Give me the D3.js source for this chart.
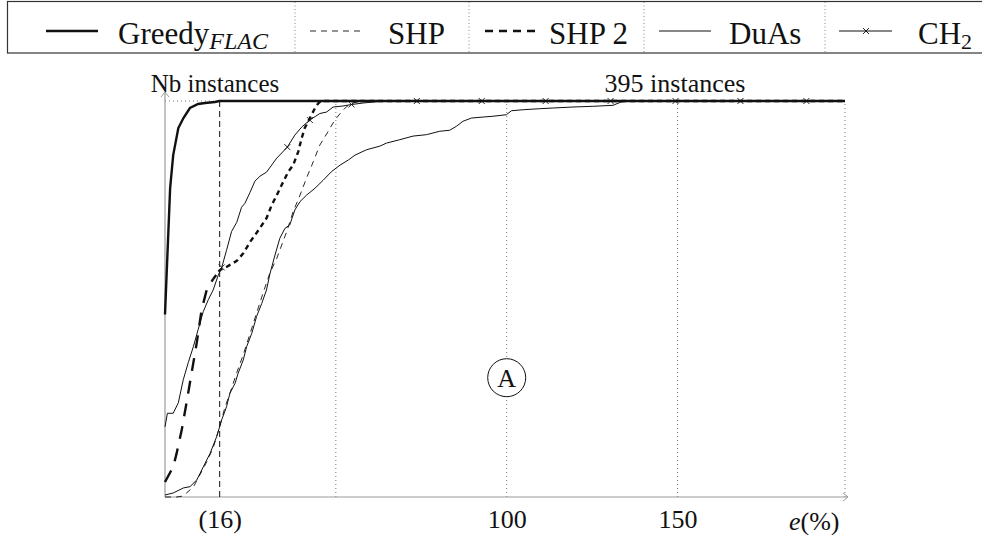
<!DOCTYPE html>
<html><head><meta charset="utf-8">
<script src="https://cdn.jsdelivr.net/npm/d3@7"></script>
<style>
body{margin:0;background:#fff}
svg text{font-family:"Liberation Serif","DejaVu Serif","Noto Serif",serif !important;fill:#111}
</style>
</head><body>
<svg id="c" width="982" height="535" font-family="Liberation Serif, DejaVu Serif, serif"></svg>
<script>
// ---------- DATA (e in %, number of instances) ----------
const totalInstances = 395;
const xMax = 199;
const gridValues = [50, 100, 150, 199];
const markValue = 16;
const tickValues = [16, 100, 150];
const tickLabels = ["(16)", "100", "150"];
const xAxisLabelPos = 190;

const greedy = [[0,182],[1.5,308],[2.4,341],[3.9,368],[5.4,378],[7.3,388],[9.7,392],[11.7,393],[14.6,394],[15.9,395],[199,395]];

const shp = [[0,0],[3.4,0],[5.35,1],[6.3,4],[8.3,10],[10.2,22],[12.2,35],[14.1,49],[15.9,69],[17.5,89],[19.0,103.5],[21.0,124],[22.9,142],[24.9,163],[26.8,183.5],[28.7,203.5],[30.7,223.5],[32.7,238],[35.6,264.6],[37.5,284.6],[39.5,301],[41.4,318],[43.4,334.5],[45.3,351],[47.7,364.4],[49.7,376],[51.7,384.3],[53.1,389.3],[54.6,392.7],[57.0,394.5],[58.5,395],[199,395]];

const shp2 = [[0,15],[2.4,30],[3.4,43.5],[4.9,67],[6.3,94],[7.8,124],[9.3,154],[10.7,186.5],[12.2,206.5],[14.1,217.5],[16.1,226.5],[18.0,229.5],[21.0,235.5],[22.9,243],[24.9,254.5],[26.3,261],[28.3,271],[29.7,278],[31.2,291],[32.7,301],[34.1,311],[36.1,324.5],[37.5,331],[39.0,344.5],[40.0,358],[40.9,368],[42.4,378],[43.9,388],[44.8,392.5],[45.6,395],[199,395]];

const duas = [[0,2],[2.4,4],[5.35,9],[7.3,10.3],[9.3,17],[11.2,30],[13.2,43.6],[15.1,60],[16.6,77],[18.0,90],[19.0,103.5],[20.5,113.4],[21.4,123.4],[22.9,136.7],[23.9,150],[25.4,163.3],[26.8,180],[28.3,193],[29.7,206.5],[30.7,222.5],[32.2,241.4],[33.6,258],[35.1,268],[36.5,271.3],[38.0,286.3],[39.5,294.6],[41.4,301],[43.9,308],[46.3,316],[48.7,324.5],[51.2,331],[53.6,336],[55.6,341],[59.0,346.4],[62.9,350],[64.8,353],[68.7,356.4],[72.6,360],[76.5,361.4],[80.4,364.8],[83.3,365.8],[85.3,369.8],[87.2,374.8],[89.7,378],[93.1,379],[96.0,379.8],[99.9,381.3],[101.4,385.3],[104.8,386.3],[109.6,387.3],[113.5,388],[119.4,389],[125.2,389.7],[131.1,390.7],[133.5,394],[135.0,394.7],[136.5,395],[199,395]];

const ch2 = [[0,70],[0.7,83.5],[2.4,83.5],[3.9,94],[5.35,117],[6.8,134],[8.3,150],[9.7,167],[11.2,185],[12.7,197],[14.1,206.5],[15.6,221.5],[16.6,229],[18.0,246],[19.5,265],[21.0,274],[22.4,289],[23.4,293],[24.9,304],[26.3,315],[27.8,320],[29.7,324],[32.7,338],[35.8,349],[38.0,361],[40.0,369],[42.4,376],[45.3,382.5],[47.3,384],[49.2,389],[52.1,390],[54.6,391.5],[58.0,393],[60.9,394],[64.8,395],[73.7,395],[92.7,395],[111.4,395],[130.4,395],[149.4,395],[168.4,395],[187.7,395],[199,395]];
const ch2Marks = [16.6, 35.8, 42.4, 54.6, 73.7, 92.7, 111.4, 130.4, 149.4, 168.4, 187.7];

const annotation = {label: "A", e: 100, n: 119};

// ---------- DRAW ----------
const FONT = "Liberation Serif, DejaVu Serif, serif";
const svg = d3.select('#c');
const x = d3.scaleLinear().domain([0, xMax]).range([165, 845]);
const y = d3.scaleLinear().domain([0, totalInstances]).range([497, 101]);
const line = d3.line().x(d => x(d[0])).y(d => y(d[1]));
const AX = '#9a9a9a';
const AFS = 26;
const txt = (sel) => sel.append('text').attr('font-family', FONT).attr('fill', '#111');

// grid
svg.append('g').selectAll('line').data(gridValues).join('line')
  .attr('x1', d => x(d)).attr('x2', d => x(d))
  .attr('y1', y(0)).attr('y2', y(totalInstances))
  .attr('stroke', '#777').attr('stroke-width', 1).attr('stroke-dasharray', '1,3');
svg.append('line').attr('x1', x(0)).attr('x2', x(xMax))
  .attr('y1', y(totalInstances)).attr('y2', y(totalInstances))
  .attr('stroke', '#777').attr('stroke-dasharray', '1,3');

// axes (d3 axes, domain replaced by arrowed lines)
const xAxis = svg.append('g').attr('transform', `translate(0,${y(0)})`)
  .call(d3.axisBottom(x).tickValues(tickValues).tickSize(0).tickPadding(13)
    .tickFormat((d, i) => tickLabels[i]));
xAxis.attr('font-family', FONT).attr('font-size', AFS);
xAxis.select('.domain').remove();
xAxis.selectAll('text').attr('font-size', AFS).attr('font-family', FONT).attr('fill', '#111');
const yAxis = svg.append('g').attr('transform', `translate(${x(0)},0)`)
  .call(d3.axisLeft(y).tickValues([]).tickSize(0));
yAxis.select('.domain').remove();

svg.append('line').attr('x1', x(0)).attr('x2', x(xMax) + 3).attr('y1', y(0)).attr('y2', y(0))
  .attr('stroke', AX).attr('stroke-width', 1.2);
svg.append('path').attr('d', `M${x(xMax)-2},${y(0)-4} L${x(xMax)+3},${y(0)} L${x(xMax)-2},${y(0)+4}`)
  .attr('fill', 'none').attr('stroke', AX).attr('stroke-width', 1);
svg.append('line').attr('x1', x(0)).attr('x2', x(0)).attr('y1', y(0)).attr('y2', y(totalInstances) - 9)
  .attr('stroke', AX).attr('stroke-width', 1.2);
svg.append('path').attr('d', `M${x(0)-4},${y(totalInstances)-4} L${x(0)},${y(totalInstances)-9} L${x(0)+4},${y(totalInstances)-4}`)
  .attr('fill', 'none').attr('stroke', AX).attr('stroke-width', 1);

// mark line at 16
svg.append('line').attr('x1', x(markValue)).attr('x2', x(markValue))
  .attr('y1', y(0)).attr('y2', y(totalInstances))
  .attr('stroke', '#111').attr('stroke-width', 1).attr('stroke-dasharray', '6,4');

// curves
svg.append('path').attr('d', line(shp)).attr('fill', 'none').attr('stroke', '#111')
  .attr('stroke-width', 0.9).attr('stroke-dasharray', '6,5');
svg.append('path').attr('d', line(duas)).attr('fill', 'none').attr('stroke', '#111').attr('stroke-width', 1);
svg.append('path').attr('d', line(ch2)).attr('fill', 'none').attr('stroke', '#111').attr('stroke-width', 1);
const splitE = 14.1;
svg.append('path').attr('d', line(shp2.filter(d => d[0] <= splitE))).attr('fill', 'none').attr('stroke', '#111')
  .attr('stroke-width', 2.4).attr('stroke-dasharray', '13,10');
svg.append('path').attr('d', line(shp2.filter(d => d[0] >= splitE))).attr('fill', 'none').attr('stroke', '#111')
  .attr('stroke-width', 2.4).attr('stroke-dasharray', '5,4');
svg.append('path').attr('d', line(greedy)).attr('fill', 'none').attr('stroke', '#111').attr('stroke-width', 2.4);

// CH2 markers
const mk = ch2.filter(d => ch2Marks.includes(d[0]));
svg.append('g').selectAll('path').data(mk).join('path')
  .attr('d', d => { const cx = x(d[0]), cy = y(d[1]), s = 3;
    return `M${cx-s},${cy-s}L${cx+s},${cy+s}M${cx-s},${cy+s}L${cx+s},${cy-s}`; })
  .attr('stroke', '#111').attr('stroke-width', 0.9);

// annotation circle
svg.append('circle').attr('cx', x(annotation.e)).attr('cy', y(annotation.n)).attr('r', 19)
  .attr('fill', '#fff').attr('stroke', '#111').attr('stroke-width', 1);
txt(svg).attr('x', x(annotation.e)).attr('y', y(annotation.n) + 9)
  .attr('text-anchor', 'middle').attr('font-size', AFS).text(annotation.label);

// labels
txt(svg).attr('x', 215).attr('y', 92).attr('text-anchor', 'middle').attr('font-size', 25).text('Nb instances');
txt(svg).attr('x', 675).attr('y', 92).attr('text-anchor', 'middle').attr('font-size', AFS)
  .text(totalInstances + ' instances');
const xl = txt(svg).attr('x', x(xAxisLabelPos)).attr('y', 530).attr('text-anchor', 'middle').attr('font-size', AFS);
xl.append('tspan').attr('font-style', 'italic').text('e');
xl.append('tspan').text('(%)');

// legend
const lg = svg.append('g');
lg.append('rect').attr('x', 7.5).attr('y', 1.5).attr('width', 1000).attr('height', 51.5)
  .attr('fill', 'none').attr('stroke', '#333').attr('stroke-width', 1.2);
[295, 469, 644, 825].forEach(d => lg.append('line').attr('x1', d).attr('x2', d).attr('y1', 2).attr('y2', 53)
  .attr('stroke', '#888').attr('stroke-dasharray', '1,2.5'));
const LY = 31, FS = 31, LB = 44;
lg.append('line').attr('x1', 46).attr('x2', 98).attr('y1', LY).attr('y2', LY).attr('stroke', '#111').attr('stroke-width', 2.4);
const t1 = txt(lg).attr('x', 118).attr('y', LB).attr('font-size', FS);
t1.append('tspan').text('Greedy');
t1.append('tspan').attr('font-style', 'italic').attr('font-size', 24).attr('dy', 5).text('FLAC');
lg.append('line').attr('x1', 310).attr('x2', 363).attr('y1', LY).attr('y2', LY).attr('stroke', '#111')
  .attr('stroke-width', 0.9).attr('stroke-dasharray', '6,5');
txt(lg).attr('x', 388).attr('y', LB).attr('font-size', FS).text('SHP');
lg.append('line').attr('x1', 485).attr('x2', 537).attr('y1', LY).attr('y2', LY).attr('stroke', '#111')
  .attr('stroke-width', 2.4).attr('stroke-dasharray', '8,6');
txt(lg).attr('x', 549).attr('y', LB).attr('font-size', FS).text('SHP 2');
lg.append('line').attr('x1', 659).attr('x2', 711).attr('y1', LY).attr('y2', LY).attr('stroke', '#111').attr('stroke-width', 1);
txt(lg).attr('x', 729).attr('y', LB).attr('font-size', FS).text('DuAs');
lg.append('line').attr('x1', 839).attr('x2', 892).attr('y1', LY).attr('y2', LY).attr('stroke', '#111').attr('stroke-width', 1);
lg.append('path').attr('d', `M863,${LY-3}L869,${LY+3}M863,${LY+3}L869,${LY-3}`).attr('stroke', '#111').attr('stroke-width', 0.9);
const t5 = txt(lg).attr('x', 918).attr('y', LB).attr('font-size', FS);
t5.append('tspan').text('CH');
t5.append('tspan').attr('font-size', 22).attr('dy', 5).text('2');
</script>
</body></html>
